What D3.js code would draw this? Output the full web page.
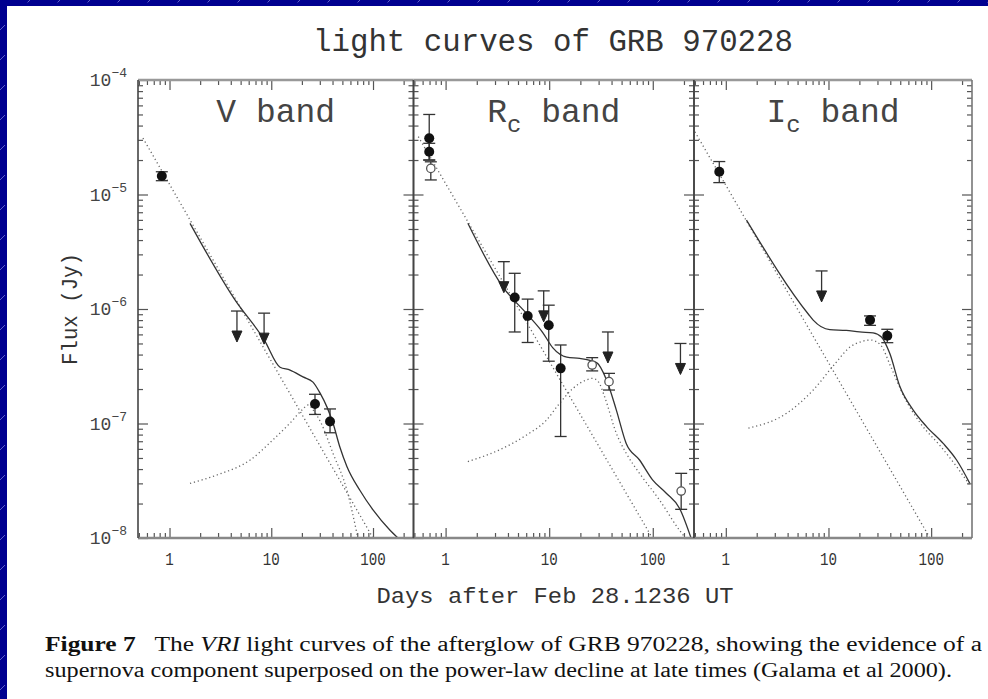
<!DOCTYPE html>
<html><head><meta charset="utf-8">
<script src="https://cdn.jsdelivr.net/npm/d3@7"></script>
<style>html,body{margin:0;background:#fff;overflow:hidden;} svg{display:block}</style>
</head><body>
<svg id="chart" width="988" height="699"></svg>
<script>
// ---------- texts ----------
const titleText = "light curves of GRB 970228";
const xAxisTitle = "Days after Feb 28.1236 UT";
const yAxisTitle = "Flux (Jy)";
const bandNames = ["V", "R", "I"];
const bandSubs = ["", "c", "c"];
const captionLine1 = ["Figure 7", "   The ", "VRI", " light curves of the afterglow of GRB 970228, showing the evidence of a"];
const captionLine2 = "supernova component superposed on the power-law decline at late times (Galama et al 2000).";

// ---------- axes ----------
const xDomain = [0.49, 250];
const yDomain = [1e-8, 1e-4];
const xTickLabels = [1, 10, 100];
const yTickValues = [1e-4, 1e-5, 1e-6, 1e-7, 1e-8];
const yTickExponents = ["\u22124", "\u22125", "\u22126", "\u22127", "\u22128"];

// ---------- V band ----------  [day, flux, low, high]
const vDetections = [[0.84, 1.45e-5, 1.32e-5, 1.58e-5], [26.9, 1.48e-7, 1.20e-7, 1.80e-7], [37.8, 1.04e-7, 8.3e-8, 1.34e-7]];
const vOpen = [];
const vUpperLimits = [[4.6, 9.6e-7], [8.5, 9.2e-7]];
const vPowerLaw = [[0.548, 3.11e-5], [100, 1.0e-8]];
const vModel = [[1.59, 5.6e-6], [4.4, 1.2e-6], [8.5, 5.4e-7], [12.2, 3.1e-7], [15.3, 2.93e-7], [20.5, 2.55e-7], [25.7, 2.3e-7], [30.1, 1.85e-7], [35.3, 1.39e-7], [40.4, 1.01e-7], [47.3, 6.2e-8], [55.5, 4.2e-8], [74.5, 2.6e-8], [100, 1.76e-8], [147, 1.17e-8], [176, 1.0e-8]];
const vSupernova = [[1.59, 3.0e-8], [2.92, 3.55e-8], [6.2, 4.8e-8], [10.4, 7.2e-8], [15.3, 1.01e-7], [20, 1.31e-7], [23, 1.45e-7], [26, 1.3e-7], [31, 1.0e-7], [40.4, 5.5e-8], [55.5, 2.6e-8], [71, 1.0e-8]];

// ---------- Rc band ----------
const rcDetections = [[0.695, 3.1e-5, 2.0e-5, 5.0e-5], [0.695, 2.36e-5, 2.0e-5, 2.8e-5], [4.65, 1.26e-6, 6.3e-7, 2.05e-6], [6.2, 8.7e-7, 5.1e-7, 1.22e-6], [9.9, 7.2e-7, 3.5e-7, 1.08e-6], [12.9, 3.03e-7, 7.7e-8, 4.85e-7]];
const rcOpen = [[0.72, 1.69e-5, 1.34e-5, 1.93e-5], [26, 3.24e-7, 2.88e-7, 3.76e-7], [37.8, 2.32e-7, 1.96e-7, 2.74e-7], [188, 2.57e-8, 1.78e-8, 3.67e-8]];
const rcUpperLimits = [[3.65, 2.59e-6], [8.85, 1.44e-6], [36.9, 6.3e-7], [185, 5.0e-7]];
const rcPowerLaw = [[0.545, 3.2e-5], [99, 1.0e-8]];
const rcModel = [[1.64, 5.6e-6], [3.55, 1.57e-6], [6.2, 8.9e-7], [8.7, 6.2e-7], [10.8, 4.6e-7], [14.8, 3.8e-7], [19.7, 3.7e-7], [28.7, 3.4e-7], [35.8, 2.4e-7], [44.5, 1.31e-7], [55.4, 6.7e-8], [74.5, 4.8e-8], [100, 3.2e-8], [135, 2.46e-8], [181, 1.82e-8], [234, 1.0e-8]];
const rcSupernova = [[1.64, 4.65e-8], [3.33, 5.9e-8], [6.0, 7.9e-8], [9.4, 1.07e-7], [12.6, 1.5e-7], [17, 2.03e-7], [22.8, 2.4e-7], [26.3, 2.48e-7], [30, 2.3e-7], [34.3, 1.71e-7], [44.5, 8.2e-8], [55.4, 5.5e-8], [74.5, 3.67e-8], [116, 2.15e-8], [181, 1.17e-8], [207, 1.0e-8]];

// ---------- Ic band ----------
const icDetections = [[0.864, 1.58e-5, 1.27e-5, 1.94e-5], [25.4, 8.0e-7, 7.2e-7, 8.7e-7], [37.4, 5.85e-7, 5.08e-7, 6.65e-7]];
const icOpen = [];
const icUpperLimits = [[8.57, 2.15e-6]];
const icPowerLaw = [[0.5, 3.53e-5], [97.3, 1.0e-8]];
const icModel = [[1.59, 5.98e-6], [6.38, 9.0e-7], [7.1, 8.0e-7], [10.3, 6.6e-7], [14.9, 6.5e-7], [20.1, 6.3e-7], [27.2, 6.2e-7], [32.8, 5.7e-7], [39.5, 4.1e-7], [49.6, 2.1e-7], [66.9, 1.31e-7], [90.2, 9.4e-8], [131, 6.7e-8], [177, 4.8e-8], [238, 3.0e-8]];
const icSupernova = [[1.66, 9.1e-8], [3.92, 1.23e-7], [7.1, 1.96e-7], [11.3, 3.24e-7], [16.4, 4.69e-7], [21, 5.2e-7], [25.7, 5.36e-7], [32.2, 4.85e-7], [40.4, 3.14e-7], [54.5, 1.71e-7], [79, 1.0e-7], [124, 6.3e-8], [177, 4.2e-8], [238, 2.9e-8]];

const panels = [
  {det: vDetections, open: vOpen, ul: vUpperLimits, pl: vPowerLaw, model: vModel, sn: vSupernova},
  {det: rcDetections, open: rcOpen, ul: rcUpperLimits, pl: rcPowerLaw, model: rcModel, sn: rcSupernova},
  {det: icDetections, open: icOpen, ul: icUpperLimits, pl: icPowerLaw, model: icModel, sn: icSupernova}
];

// ---------- layout ----------
const W = 988, H = 699;
const panelEdges = [138, 413.5, 694, 972];
const plotTop = 80, plotBottom = 538;
const mono = "'Liberation Mono', 'DejaVu Sans Mono', monospace";
const serif = "'Liberation Serif', 'DejaVu Serif', serif";

const svg = d3.select("#chart");
const defs = svg.append("defs");
const pat = defs.append("pattern").attr("id", "stripes").attr("patternUnits", "userSpaceOnUse")
  .attr("width", 30).attr("height", 30);
pat.append("rect").attr("width", 30).attr("height", 30).attr("fill", "#000090");
pat.append("line").attr("x1", 0).attr("y1", 30).attr("x2", 30).attr("y2", 0)
  .attr("stroke", "#7a7ad8").attr("stroke-width", 0.8).attr("stroke-dasharray", "7 6");
svg.append("rect").attr("width", W).attr("height", H).attr("fill", "url(#stripes)");
svg.append("rect").attr("x", 7).attr("y", 6).attr("width", W - 7).attr("height", H - 6).attr("fill", "#fff");

const y = d3.scaleLog().domain(yDomain).range([plotBottom, plotTop]);

// title
svg.append("text").attr("x", 553).attr("y", 51).attr("text-anchor", "middle")
  .attr("font-family", mono).attr("font-size", 31).attr("fill", "#333")
  .attr("textLength", 480).attr("lengthAdjust", "spacingAndGlyphs").text(titleText);

const isMajor = v => Math.abs(Math.log10(v) - Math.round(Math.log10(v))) < 1e-6;

panels.forEach((p, i) => {
  const x0 = panelEdges[i], x1 = panelEdges[i + 1];
  const x = d3.scaleLog().domain(xDomain).range([x0, x1]);
  const g = svg.append("g");
  const clipId = "clip" + i;
  defs.append("clipPath").attr("id", clipId).append("rect")
    .attr("x", x0).attr("y", plotTop).attr("width", x1 - x0).attr("height", plotBottom - plotTop);
  const curves = g.append("g").attr("clip-path", `url(#${clipId})`);
  const line = d3.line().x(d => x(d[0])).y(d => y(d[1])).curve(d3.curveMonotoneX);

  curves.append("path").attr("d", line(p.pl)).attr("fill", "none").attr("stroke", "#666")
    .attr("stroke-width", 1.3).attr("stroke-dasharray", "1.2 2.8");
  curves.append("path").attr("d", line(p.sn)).attr("fill", "none").attr("stroke", "#666")
    .attr("stroke-width", 1.3).attr("stroke-dasharray", "1.2 2.8");
  curves.append("path").attr("d", line(p.model)).attr("fill", "none").attr("stroke", "#333")
    .attr("stroke-width", 1.3);

  // error bars
  const eb = g.append("g").attr("stroke", "#333").attr("stroke-width", 1.3);
  p.det.concat(p.open).forEach(d => {
    const cx = x(d[0]);
    eb.append("line").attr("x1", cx).attr("x2", cx).attr("y1", y(d[2])).attr("y2", y(d[3]));
    eb.append("line").attr("x1", cx - 6).attr("x2", cx + 6).attr("y1", y(d[2])).attr("y2", y(d[2]));
    eb.append("line").attr("x1", cx - 6).attr("x2", cx + 6).attr("y1", y(d[3])).attr("y2", y(d[3]));
  });
  // upper limits
  p.ul.forEach(d => {
    const cx = x(d[0]), cy = y(d[1]);
    eb.append("line").attr("x1", cx - 6).attr("x2", cx + 6).attr("y1", cy).attr("y2", cy);
    eb.append("line").attr("x1", cx).attr("x2", cx).attr("y1", cy).attr("y2", cy + 22);
    g.append("path").attr("d", `M${cx - 5},${cy + 20}L${cx + 5},${cy + 20}L${cx},${cy + 31}Z`)
      .attr("fill", "#222").attr("stroke", "#222").attr("stroke-width", 1);
  });
  g.selectAll(null).data(p.det).join("circle").attr("cx", d => x(d[0])).attr("cy", d => y(d[1]))
    .attr("r", 5).attr("fill", "#111");
  g.selectAll(null).data(p.open).join("circle").attr("cx", d => x(d[0])).attr("cy", d => y(d[1]))
    .attr("r", 4.2).attr("fill", "#fff").attr("stroke", "#555").attr("stroke-width", 1.3);

  // ticks
  const xt = x.ticks();
  const yt = y.ticks();
  const xMaj = xt.filter(isMajor), xMin = xt.filter(v => !isMajor(v));
  const yMaj = yt.filter(isMajor), yMin = yt.filter(v => !isMajor(v));
  const clean = s => s.call(a => a.select(".domain").remove())
    .call(a => a.selectAll("line").attr("stroke", "#555").attr("stroke-width", 1.2));
  const ax = g.append("g");
  ax.append("g").attr("transform", `translate(0,${plotBottom})`).call(d3.axisBottom(x).tickValues(xMin).tickSize(-5).tickFormat("")).call(clean);
  ax.append("g").attr("transform", `translate(0,${plotBottom})`).call(d3.axisBottom(x).tickValues(xMaj).tickSize(-10).tickFormat("")).call(clean);
  ax.append("g").attr("transform", `translate(0,${plotTop})`).call(d3.axisTop(x).tickValues(xMin).tickSize(-5).tickFormat("")).call(clean);
  ax.append("g").attr("transform", `translate(0,${plotTop})`).call(d3.axisTop(x).tickValues(xMaj).tickSize(-10).tickFormat("")).call(clean);
  ax.append("g").attr("transform", `translate(${x0},0)`).call(d3.axisLeft(y).tickValues(yMin).tickSize(-5).tickFormat("")).call(clean);
  ax.append("g").attr("transform", `translate(${x0},0)`).call(d3.axisLeft(y).tickValues(yMaj).tickSize(-10).tickFormat("")).call(clean);
  ax.append("g").attr("transform", `translate(${x1},0)`).call(d3.axisRight(y).tickValues(yMin).tickSize(-5).tickFormat("")).call(clean);
  ax.append("g").attr("transform", `translate(${x1},0)`).call(d3.axisRight(y).tickValues(yMaj).tickSize(-10).tickFormat("")).call(clean);

  // frame
  g.append("line").attr("x1", x0).attr("x2", x1).attr("y1", plotTop).attr("y2", plotTop).attr("stroke", "#999").attr("stroke-width", 2.5);
  g.append("line").attr("x1", x0).attr("x2", x1).attr("y1", plotBottom).attr("y2", plotBottom).attr("stroke", "#888").attr("stroke-width", 2.5);
  g.append("line").attr("x1", x0).attr("x2", x0).attr("y1", plotTop).attr("y2", plotBottom).attr("stroke", "#444").attr("stroke-width", 1.6);
  g.append("line").attr("x1", x1).attr("x2", x1).attr("y1", plotTop).attr("y2", plotBottom).attr("stroke", i === 2 ? "#777" : "#444").attr("stroke-width", 1.6);

  // x tick labels
  g.selectAll(null).data(xTickLabels).join("text").attr("x", d => x(d)).attr("y", 565)
    .attr("text-anchor", "middle").attr("font-family", mono).attr("font-size", 18).attr("fill", "#333")
    .each(function (d) { const s = String(d); d3.select(this).text(s).attr("textLength", s.length * 8.5).attr("lengthAdjust", "spacingAndGlyphs"); });

  // band label
  const bl = g.append("text").attr("x", (x0 + x1) / 2).attr("y", 122).attr("text-anchor", "middle")
    .attr("font-family", mono).attr("font-size", 33).attr("fill", "#444");
  bl.append("tspan").text(bandNames[i]);
  if (bandSubs[i]) {
    bl.append("tspan").attr("font-size", 24).attr("dy", 10).text(bandSubs[i]);
    bl.append("tspan").attr("dy", -10).text(" band");
  } else {
    bl.append("tspan").text(" band");
  }
});

// y tick labels
yTickValues.forEach((v, k) => {
  const t = svg.append("text").attr("x", 127).attr("y", y(v) + 6).attr("text-anchor", "end")
    .attr("font-family", mono).attr("fill", "#444");
  t.append("tspan").attr("font-size", 18).text("10");
  t.append("tspan").attr("font-size", 13).attr("dy", -9).text(yTickExponents[k]);
});

// axis titles
svg.append("text").attr("transform", "translate(77,309) rotate(-90)").attr("text-anchor", "middle")
  .attr("font-family", mono).attr("font-size", 22).attr("fill", "#333")
  .attr("textLength", 112).attr("lengthAdjust", "spacingAndGlyphs").text(yAxisTitle);
svg.append("text").attr("x", 555).attr("y", 603).attr("text-anchor", "middle")
  .attr("font-family", mono).attr("font-size", 22).attr("fill", "#333")
  .attr("textLength", 357).attr("lengthAdjust", "spacingAndGlyphs").text(xAxisTitle);

// caption
const c1 = svg.append("text").attr("x", 45).attr("y", 651).attr("font-family", serif)
  .attr("font-size", 20).attr("fill", "#111").attr("textLength", 937).attr("lengthAdjust", "spacingAndGlyphs");
c1.append("tspan").attr("font-weight", "bold").text(captionLine1[0]);
c1.append("tspan").attr("xml:space", "preserve").style("white-space", "pre").text(captionLine1[1]);
c1.append("tspan").attr("font-style", "italic").text(captionLine1[2]);
c1.append("tspan").text(captionLine1[3]);
svg.append("text").attr("x", 45).attr("y", 677).attr("font-family", serif)
  .attr("font-size", 20).attr("fill", "#111").attr("textLength", 907).attr("lengthAdjust", "spacingAndGlyphs")
  .text(captionLine2);
</script>
</body></html>
